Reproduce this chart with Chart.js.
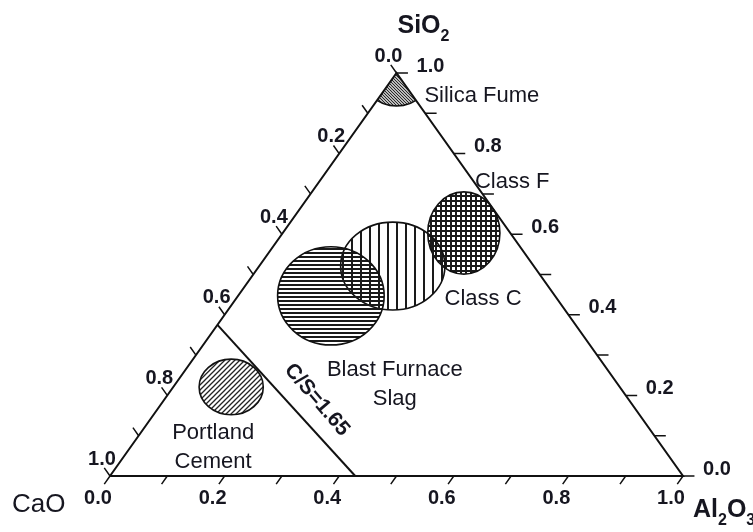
<!DOCTYPE html>
<html>
<head>
<meta charset="utf-8">
<script src="https://cdn.jsdelivr.net/npm/chart.js@4.4.0/dist/chart.umd.min.js"></script>
<style>
    html, body { margin: 0; padding: 0; background: #ffffff; }
    #wrap { width: 753px; height: 532px; position: relative; }
</style>
</head>
<body>
<div id="wrap"><canvas id="chartTernary"></canvas></div>
<script>
// axis ticks (fractions) and the labelled ones
const tickValues = [0.0, 0.1, 0.2, 0.3, 0.4, 0.5, 0.6, 0.7, 0.8, 0.9, 1.0];
const labelValues = [0.0, 0.2, 0.4, 0.6, 0.8, 1.0];
const tickLabels = ['0.0', '0.2', '0.4', '0.6', '0.8', '1.0'];

// material fields, composition of centre (SiO2, Al2O3 fraction, rest is CaO)
const regionNames = ['Silica Fume', 'Class F', 'Class C', 'Blast Furnace Slag', 'Portland Cement'];
const regionSiO2 = [1.0, 0.603, 0.521, 0.447, 0.221];
const regionAl2O3 = [0.0, 0.316, 0.233, 0.162, 0.101];
// half-spread of each field along the base / height direction
const regionSpreadX = [0.06, 0.063, 0.091, 0.093, 0.056];
const regionSpreadY = [0.082, 0.102, 0.109, 0.122, 0.069];

// C/S = 1.65 line end points
const csSiO2 = [0.375, 0.0];
const csAl2O3 = [0.0, 0.428];

// ternary -> cartesian (base = Al2O3 axis, height = SiO2)
function tern(al, si) {
    return { x: al + si / 2, y: si };
}

const hatchKind = ['backslash', 'grid', 'vertical', 'horizontal', 'slash'];

function makePattern(kind) {
    let c = document.createElement('canvas');
    let g = c.getContext('2d');
    let s = 5;
    if (kind === 'horizontal') s = 4;
    if (kind === 'vertical') s = 9;
    if (kind === 'backslash') s = 3;
    c.width = s; c.height = s;
    g.fillStyle = '#1a1a1a';
    g.strokeStyle = '#222';
    if (kind === 'horizontal') {
        g.fillRect(0, 0, s, 2);
    } else if (kind === 'vertical') {
        g.fillRect(0, 0, 2, s);
    } else if (kind === 'grid') {
        g.fillRect(0, 0, s, 2);
        g.fillRect(0, 0, 2, s);
    } else {
        g.lineWidth = kind === 'slash' ? 1.3 : 1.2;
        g.beginPath();
        if (kind === 'slash') {
            g.moveTo(0, s); g.lineTo(s, 0);
            g.moveTo(-1, 1); g.lineTo(1, -1);
            g.moveTo(s - 1, s + 1); g.lineTo(s + 1, s - 1);
        } else {
            g.moveTo(0, 0); g.lineTo(s, s);
            g.moveTo(-1, s - 1); g.lineTo(1, s + 1);
            g.moveTo(s - 1, -1); g.lineTo(s + 1, 1);
        }
        g.stroke();
    }
    return g.createPattern(c, 'repeat');
}

// triangle outline
let frame = [tern(0, 0), tern(1, 0), tern(0, 1), tern(0, 0)];

// tick marks: bottom ticks parallel to left edge, right ticks horizontal, left ticks parallel to right edge
let tickLen = 0.02;
let ticks = [];
tickValues.forEach(function (v) {
    let b = tern(v, 0);
    ticks.push(b, { x: b.x - tickLen / 2, y: b.y - tickLen }, { x: null, y: null });
    let r = tern(1 - v, v);
    ticks.push(r, { x: r.x + tickLen, y: r.y }, { x: null, y: null });
    let l = tern(0, 1 - v);
    ticks.push(l, { x: l.x - tickLen / 2, y: l.y + tickLen }, { x: null, y: null });
});

let csLine = csSiO2.map(function (s, i) { return tern(csAl2O3[i], s); });

const FONT = '"Liberation Sans", Arial, Helvetica, sans-serif';
const INK = '#161620';

// where text sits (chart units), kept apart from the data
const regionText = [
    { lines: ['Silica Fume'], x: 0.649, y: 0.943 },
    { lines: ['Class F'], x: 0.702, y: 0.730 },
    { lines: ['Class C'], x: 0.651, y: 0.439 },
    { lines: ['Blast Furnace', 'Slag'], x: 0.497, y: 0.263 },
    { lines: ['Portland', 'Cement'], x: 0.180, y: 0.107 }
];

function drawTitle(ctx, main, sub, x, y, weight, size) {
    ctx.textAlign = 'left';
    ctx.textBaseline = 'alphabetic';
    let parts = main.split('|');
    let subs = sub.split('|');
    let cx = x;
    parts.forEach(function (p, i) {
        ctx.font = weight + ' ' + size + 'px ' + FONT;
        ctx.fillText(p, cx, y);
        cx += ctx.measureText(p).width;
        if (subs[i]) {
            ctx.font = weight + ' ' + Math.round(size * 0.62) + 'px ' + FONT;
            ctx.fillText(subs[i], cx, y + 8);
            cx += ctx.measureText(subs[i]).width;
        }
    });
}

const ternaryDecor = {
    id: 'ternaryDecor',
    beforeDatasetsDraw: function (chart) {
        let ctx = chart.ctx;
        let xs = chart.scales.x, ys = chart.scales.y;
        regionNames.forEach(function (name, i) {
            let p = tern(regionAl2O3[i], regionSiO2[i]);
            let cx = xs.getPixelForValue(p.x), cy = ys.getPixelForValue(p.y);
            let rx = Math.abs(xs.getPixelForValue(regionSpreadX[i]) - xs.getPixelForValue(0));
            let ry = Math.abs(ys.getPixelForValue(regionSpreadY[i]) - ys.getPixelForValue(0));
            ctx.save();
            if (i === 0) {
                // silica fume sits in the SiO2 corner, cut by the triangle
                ctx.beginPath();
                frame.forEach(function (q, k) {
                    let px = xs.getPixelForValue(q.x), py = ys.getPixelForValue(q.y);
                    if (k === 0) ctx.moveTo(px, py); else ctx.lineTo(px, py);
                });
                ctx.clip();
            }
            ctx.beginPath();
            ctx.ellipse(cx, cy, rx, ry, 0, 0, Math.PI * 2);
            ctx.fillStyle = makePattern(hatchKind[i]);
            ctx.fill();
            ctx.lineWidth = 1.6;
            ctx.strokeStyle = '#111';
            ctx.stroke();
            ctx.restore();
        });
    },
    afterDatasetsDraw: function (chart) {
        let ctx = chart.ctx;
        let xs = chart.scales.x, ys = chart.scales.y;
        let px = function (q) { return [xs.getPixelForValue(q.x), ys.getPixelForValue(q.y)]; };
        ctx.save();
        ctx.fillStyle = INK;

        // tick labels
        ctx.font = 'bold 20px ' + FONT;
        ctx.textAlign = 'center';
        ctx.textBaseline = 'middle';
        labelValues.forEach(function (v, i) {
            let b = px(tern(v, 0));
            ctx.fillText(tickLabels[i], b[0] - 12, b[1] + 22);
            let l = px(tern(0, 1 - v));
            ctx.fillText(tickLabels[i], l[0] - 8, l[1] - 17);
            let r = px(tern(1 - v, v));
            ctx.fillText(tickLabels[i], r[0] + 34, r[1] - 7);
        });

        // field names
        ctx.font = '22px ' + FONT;
        regionText.forEach(function (t) {
            let c = px(t);
            t.lines.forEach(function (s, k) {
                ctx.fillText(s, c[0], c[1] + k * 29);
            });
        });

        // C/S label along the line
        let a = px(csLine[0]), b = px(csLine[1]);
        let mid = px({ x: 0.361, y: 0.189 });
        ctx.save();
        ctx.translate(mid[0], mid[1]);
        ctx.rotate(Math.atan2(b[1] - a[1], b[0] - a[0]) + 0.03);
        ctx.font = 'bold 21px ' + FONT;
        ctx.fillText('C/S=1.65', 0, 0);
        ctx.restore();

        // corner titles
        let top = px(tern(0, 1)), left = px(tern(0, 0)), right = px(tern(1, 0));
        drawTitle(ctx, 'SiO', '2', top[0] + 1, top[1] - 40, 'bold', 25);
        drawTitle(ctx, 'CaO', '', left[0] - 98, left[1] + 36, 'normal', 26);
        drawTitle(ctx, 'Al|O', '2|3', right[0] + 10, right[1] + 41, 'bold', 25);
        ctx.restore();
    }
};

let chartTernary = new Chart(document.getElementById('chartTernary'), {
    type: 'scatter',
    data: {
        datasets: [
            { data: frame, showLine: true, borderColor: '#111', borderWidth: 2, pointRadius: 0, clip: false },
            { data: csLine, showLine: true, borderColor: '#111', borderWidth: 2, pointRadius: 0, clip: false },
            { data: ticks, showLine: true, spanGaps: false, borderColor: '#111', borderWidth: 1.5, pointRadius: 0, clip: false }
        ]
    },
    options: {
        responsive: true,
        maintainAspectRatio: false,
        animation: false,
        events: [],
        layout: { padding: { left: 110, right: 70, top: 73, bottom: 56 } },
        scales: {
            x: { type: 'linear', min: 0, max: 1, display: false },
            y: { type: 'linear', min: 0, max: 1, display: false }
        },
        plugins: {
            legend: { display: false },
            tooltip: { enabled: false }
        }
    },
    plugins: [ternaryDecor]
});
</script>
</body>
</html>
